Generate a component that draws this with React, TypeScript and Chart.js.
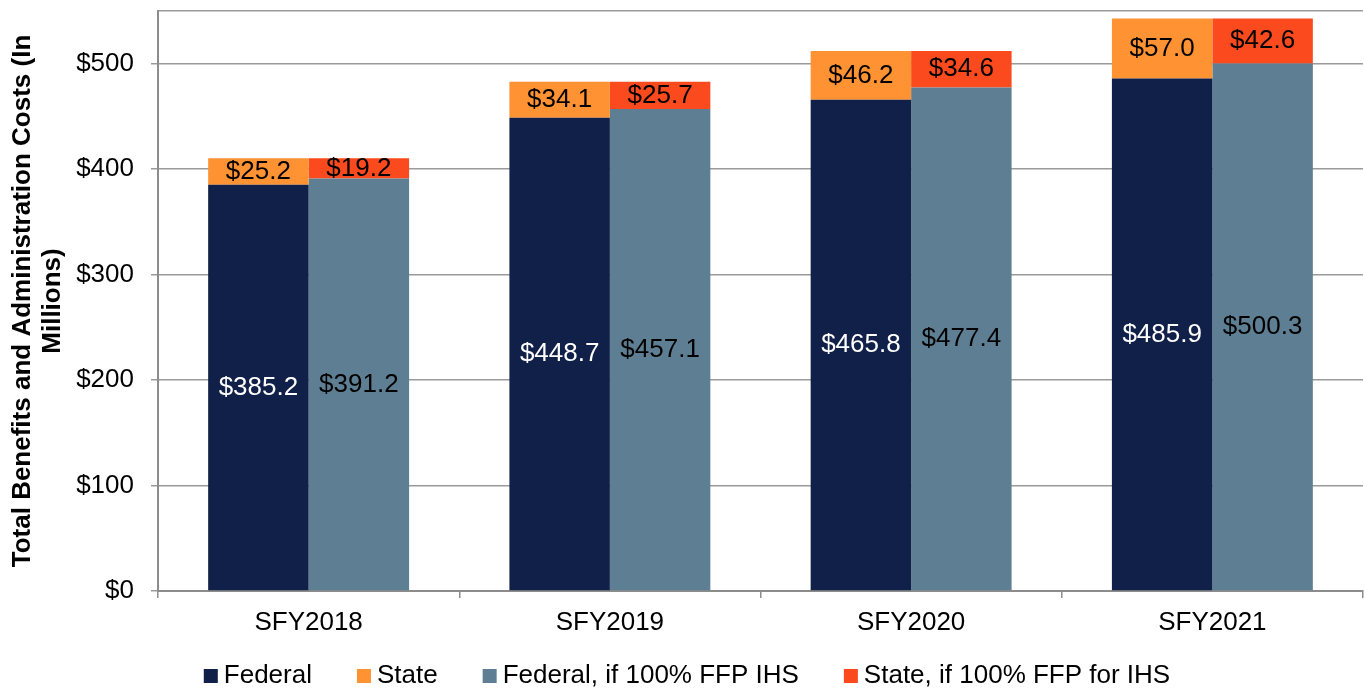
import React, { useEffect, useRef } from "react";
import { Chart, registerables } from "chart.js";

Chart.register(...registerables);

const categories = ["SFY2018", "SFY2019", "SFY2020", "SFY2021"];
const federal = [385.2, 448.7, 465.8, 485.9];
const state = [25.2, 34.1, 46.2, 57.0];
const federalIHS = [391.2, 457.1, 477.4, 500.3];
const stateIHS = [19.2, 25.7, 34.6, 42.6];
const seriesNames = ["Federal", "State", "Federal, if 100% FFP IHS", "State, if 100% FFP for IHS"];
const seriesColors = ["#112049", "#FF9233", "#5E7F93", "#FB4A1E"];
const labelColors = ["#ffffff", "#000000", "#000000", "#000000"];
const yTitle = ["Total Benefits and Administration Costs (In", "Millions)"];

const FONT = "'Liberation Sans', Arial, sans-serif";

const dataLabelPlugin = {
  id: "segLabels",
  afterDatasetsDraw(chart: any) {
    const ctx = chart.ctx;
    ctx.save();
    ctx.font = `26px ${FONT}`;
    ctx.textAlign = "center";
    ctx.textBaseline = "middle";
    chart.data.datasets.forEach((ds: any, di: number) => {
      const meta = chart.getDatasetMeta(di);
      meta.data.forEach((el: any, i: number) => {
        const v = ds.data[i];
        const cy = (el.y + el.base) / 2;
        ctx.fillStyle = labelColors[di];
        ctx.fillText("$" + v.toFixed(1), el.x, cy);
      });
    });
    ctx.restore();
  },
};

const legendPlugin = {
  id: "customLegend",
  afterDraw(chart: any) {
    const ctx = chart.ctx;
    ctx.save();
    ctx.font = `26px ${FONT}`;
    ctx.textBaseline = "middle";
    ctx.textAlign = "left";
    const box = 14;
    const gapText = 6;
    const gapItem = 45;
    const widths = seriesNames.map((n) => ctx.measureText(n).width);
    const total = widths.reduce((a, w) => a + box + gapText + w, 0) + gapItem * (seriesNames.length - 1);
    let x = 687 - total / 2;
    const cy = 676;
    seriesNames.forEach((n, i) => {
      ctx.fillStyle = seriesColors[i];
      ctx.fillRect(x, cy - box / 2, box, box);
      ctx.fillStyle = "#000000";
      ctx.fillText(n, x + box + gapText, cy);
      x += box + gapText + widths[i] + gapItem;
    });
    ctx.restore();
  },
};

export default function App() {
  const ref = useRef<HTMLCanvasElement>(null);
  useEffect(() => {
    if (!ref.current) return;
    const chart = new Chart(ref.current, {
      type: "bar",
      data: {
        labels: categories,
        datasets: [
          { label: seriesNames[0], data: federal, backgroundColor: seriesColors[0], stack: "a" },
          { label: seriesNames[1], data: state, backgroundColor: seriesColors[1], stack: "a" },
          { label: seriesNames[2], data: federalIHS, backgroundColor: seriesColors[2], stack: "b" },
          { label: seriesNames[3], data: stateIHS, backgroundColor: seriesColors[3], stack: "b" },
        ],
      },
      options: {
        responsive: false,
        animation: false,
        devicePixelRatio: 1,
        layout: { padding: { top: 11, right: 1, bottom: 54, left: 0 } },
        datasets: { bar: { categoryPercentage: 0.667, barPercentage: 1.0, borderWidth: 0 } },
        plugins: { legend: { display: false }, tooltip: { enabled: false } },
        scales: {
          x: {
            stacked: true,
            grid: {
              display: true,
              drawOnChartArea: false,
              drawTicks: true,
              tickLength: 7,
              color: "#8c8c8c",
              lineWidth: 1.5,
              offset: true,
            },
            border: { display: true, color: "#8c8c8c", width: 2 },
            ticks: { color: "#000000", font: { family: FONT, size: 26 }, padding: 9, maxRotation: 0 },
            afterFit(scale: any) {
              scale.height = 45;
              scale.paddingLeft = 0;
              scale.paddingRight = 0;
            },
          },
          y: {
            stacked: true,
            min: 0,
            max: 550,
            ticks: {
              stepSize: 100,
              color: "#000000",
              font: { family: FONT, size: 26 },
              padding: 17,
              callback: (v: any) => (v === 550 ? "" : "$" + v),
            },
            grid: {
              color: "#9a9a9a",
              lineWidth: 1.5,
              tickLength: 7,
              tickColor: (c: any) => (c.tick && c.tick.value === 550 ? "rgba(0,0,0,0)" : "#9a9a9a"),
            },
            border: { display: true, color: "#8c8c8c", width: 2 },
            title: {
              display: true,
              text: yTitle,
              color: "#000000",
              font: { family: FONT, size: 26, weight: "bold", lineHeight: 1.15 },
              padding: { top: 8, bottom: 0 },
            },
            afterFit(scale: any) {
              scale.width = 158;
              scale.paddingTop = 0;
              scale.paddingBottom = 0;
            },
          },
        },
      },
      plugins: [dataLabelPlugin, legendPlugin],
    } as any);
    return () => chart.destroy();
  }, []);
  return (
    <div style={{ position: "absolute", left: 0, top: 0, width: 1364, height: 690, background: "#fff" }}>
      <canvas ref={ref} width={1364} height={690} style={{ width: 1364, height: 690, display: "block" }} />
    </div>
  );
}
